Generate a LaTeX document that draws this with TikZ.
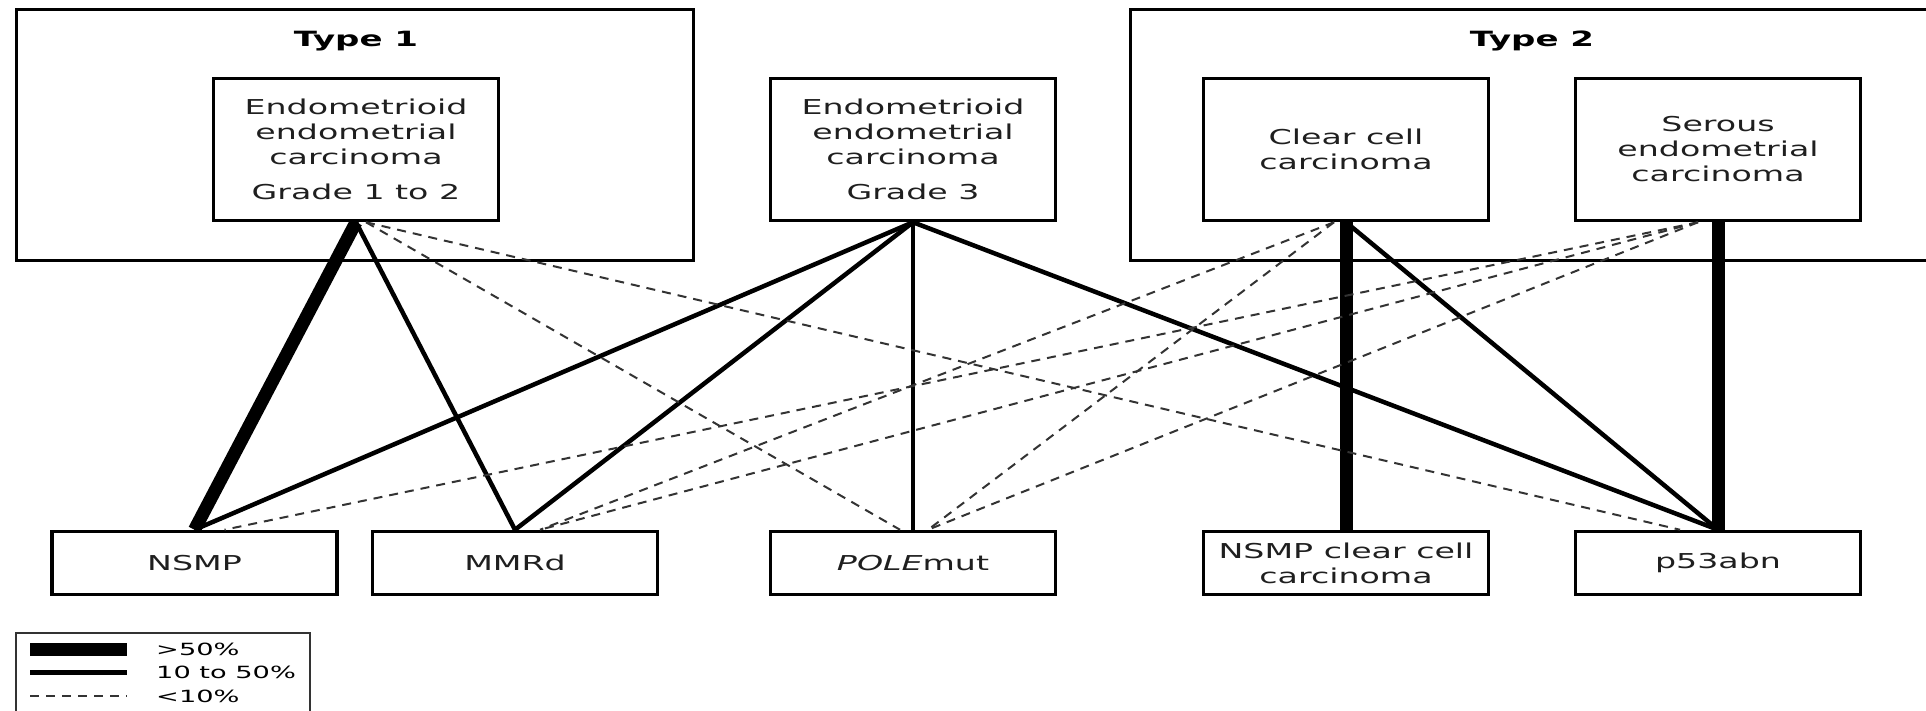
\documentclass[tikz,border=0pt]{standalone}
\usepackage{fontspec}
\setmainfont[FakeStretch=1.62]{DejaVu Sans}
\usetikzlibrary{positioning}
\newcommand{\cellfont}{\fontsize{20.5}{25}\selectfont}
\newcommand{\keyfont}{\fontsize{16.8}{20}\selectfont}

\begin{document}
\begin{tikzpicture}[x=1pt, y=-1pt,
    group/.style={draw, line width=3pt, inner sep=0pt},
    cell/.style={draw, line width=3.5pt, minimum width=285pt, align=center, font=\cellfont, text=black!88, inner sep=0pt},
    major/.style={line width=13pt},
    medium/.style={line width=4.5pt},
    minor/.style={line width=2pt, black!80, dash pattern=on 9pt off 7pt},
]
\useasboundingbox (0,0) rectangle (1926,711);

% Groups
\node[group, minimum width=677pt, minimum height=251pt] (type1) at (355,135) {};
\node[group, minimum width=803pt, minimum height=251pt] (type2) at (1532,135) {};
\node[font=\fontsize{21}{25}\selectfont\bfseries] (type1title) at (356,41) {Type 1};
\node[font=\fontsize{21}{25}\selectfont\bfseries] (type2title) at (1532,41) {Type 2};

% Histotypes
\node[cell, minimum height=142pt] (eec12) at (356,149.5) {Endometrioid\\endometrial\\carcinoma\\[10pt]Grade 1 to 2};
\node[cell, minimum height=142pt] (eec3) at (913,149.5) {Endometrioid\\endometrial\\carcinoma\\[10pt]Grade 3};
\node[cell, minimum height=142pt] (clear) at (1346,149.5) {Clear cell\\carcinoma};
\node[cell, minimum height=142pt] (serous) at (1718,149.5) {Serous\\endometrial\\carcinoma};

% Molecular classes
\node[cell, minimum height=63pt] (nsmp) at (194.5,563) {NSMP};
\node[cell, minimum height=63pt] (mmrd) at (515,563) {MMRd};
\node[cell, minimum height=63pt] (pole) at (913,563) {\textit{POLE}mut};
\node[cell, minimum height=63pt] (nsmpcc) at (1346,563) {NSMP clear cell\\carcinoma};
\node[cell, minimum height=63pt] (p53) at (1718,563) {p53abn};

% >50%
\draw[major] (eec12.south) -- (nsmp.north);
\draw[major] (clear.south) -- (nsmpcc.north);
\draw[major] (serous.south) -- (p53.north);
% 10 to 50%
\draw[medium] (eec12.south) -- (mmrd.north);
\foreach \to in {nsmp, mmrd, pole, p53}
    \draw[medium] (eec3.south) -- (\to.north);
\draw[medium] (clear.south) -- (p53.north);
% <10%
\draw[minor] ([xshift=10pt]eec12.south) -- ([xshift=-13pt]pole.north);
\draw[minor] ([xshift=10pt]eec12.south) -- ([xshift=-38pt]p53.north);
\draw[minor] ([xshift=-12pt]clear.south) -- ([xshift=25pt]mmrd.north);
\draw[minor] ([xshift=-12pt]clear.south) -- ([xshift=15pt]pole.north);
\foreach \to/\dx in {nsmp/30, mmrd/25, pole/15}
    \draw[minor] ([xshift=-20pt]serous.south) -- ([xshift=\dx pt]\to.north);

% Legend
\draw[line width=2pt, black!80] (16,633) rectangle (310,740);
\foreach \i/\sty/\txt in {0/major/{>50\%}, 1/medium/{10 to 50\%}, 2/minor/{<10\%}} {
    \coordinate (keyA\i) at (30,649+\i*23.5);
    \coordinate (keyB\i) at (127,649+\i*23.5);
    \draw[\sty] (keyA\i) -- (keyB\i);
    \node[font=\keyfont, anchor=west, inner sep=0pt] (key\i) at (156,649+\i*23.5) {\txt};
}
\end{tikzpicture}
\end{document}
